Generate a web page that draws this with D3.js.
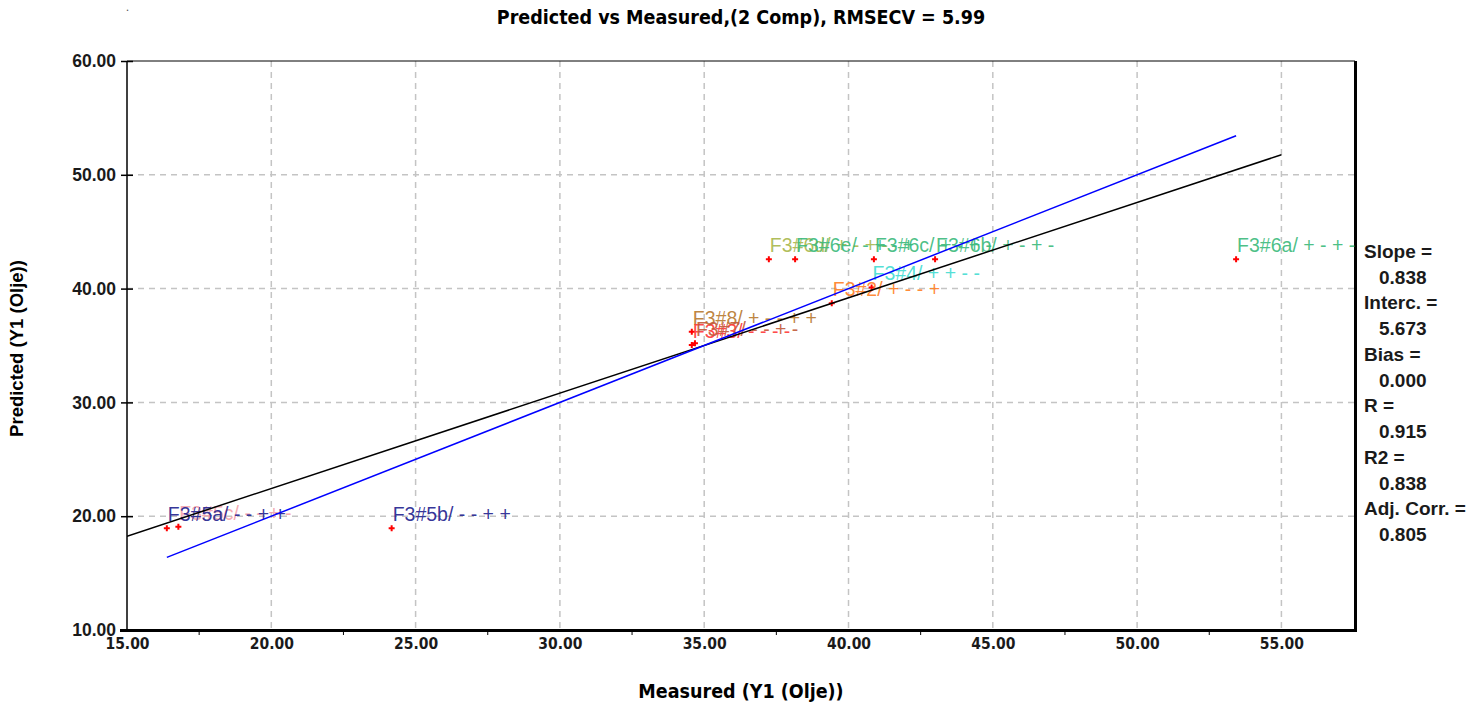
<!DOCTYPE html>
<html>
<head>
<meta charset="utf-8">
<script src="https://cdn.jsdelivr.net/npm/d3@7"></script>
<style>
  body { margin: 0; background: #fff; }
  svg { display: block; }
  .narrow { font-family: "Liberation Sans Narrow", "DejaVu Sans Condensed", "Liberation Sans", Arial, sans-serif; font-weight: bold; }
  .bold { font-family: "Liberation Sans", Arial, sans-serif; font-weight: bold; }
  .lbl { font-family: "Liberation Sans", Arial, sans-serif; font-size: 19.5px; }
</style>
</head>
<body>
<script>
// data
var sampleNames = ["F3#5c/", "F3#5a/", "F3#5b/", "F3#8/", "F3#3/", "F3#7/", "F3#2/", "F3#4/",
                   "F3#6d/", "F3#6e/", "F3#6c/", "F3#6b/", "F3#6a/"];
var measured  = [16.78, 16.38, 24.17, 34.57, 34.57, 34.68, 39.42, 40.80, 37.24, 38.15, 40.88, 43.00, 53.43];
var predicted = [19.08, 18.94, 18.94, 36.20, 35.04, 35.20, 38.71, 40.10, 42.57, 42.57, 42.57, 42.57, 42.57];
var replicateMarks = ["- - + -", "- - + +", "- - + +", "+ - - + +", "- - - -", "- - + -", "+ - - +", "+ + - -",
                      "+ - + -", "- + - +", "+ - + -", "+ - + -", "+ - + -"];

var xTicks = [15, 20, 25, 30, 35, 40, 45, 50, 55];
var yTicks = [10, 20, 30, 40, 50, 60];

var statNames  = ["Slope =", "Interc. =", "Bias =", "R =", "R2 =", "Adj. Corr. ="];
var statValues = [0.838, 5.673, 0.000, 0.915, 0.838, 0.805];
var slope = statValues[0], intercept = statValues[1];

var title = "Predicted vs Measured,(2 Comp), RMSECV = 5.99";

var width = 1481, height = 708;
var pl = 127, pr = 1355, pt = 61, pb = 630;   // plot box

var svg = d3.select("body").append("svg")
    .attr("width", width)
    .attr("height", height);

var x = d3.scaleLinear().domain([15, 57.55]).range([pl, pr]);
var y = d3.scaleLinear().domain([10, 60]).range([pb, pt]);

var color = d3.scaleOrdinal()
    .domain(sampleNames)
    .range(["#f4a4ac", "#23238f", "#23238f", "#b87a30", "#ff3a3a", "#c25a3a", "#ff8026", "#44dcd2",
            "#a9b84c", "#3cba7c", "#3cba7c", "#3cba7c", "#3cba7c"]);

svg.append("defs").append("clipPath").attr("id", "plotclip")
  .append("rect")
    .attr("x", pl).attr("y", pt)
    .attr("width", pr - pl).attr("height", pb - pt);

// stray dot top-left
svg.append("text").attr("x", 126).attr("y", 11).attr("font-size", 12).attr("fill", "#555").text(".");

// title
svg.append("text")
    .attr("class", "narrow")
    .attr("x", (pl + pr) / 2).attr("y", 24)
    .attr("text-anchor", "middle")
    .attr("font-size", 19.5)
    .text(title);

// grid
var grid = svg.append("g").attr("stroke", "#c4c4c4").attr("stroke-width", 1.5).attr("stroke-dasharray", "6,5");
grid.selectAll(".vg").data(xTicks.slice(1))
  .enter().append("line")
    .attr("x1", function(d){ return x(d); }).attr("x2", function(d){ return x(d); })
    .attr("y1", pt).attr("y2", pb);
grid.selectAll(".hg").data(yTicks.slice(1, -1))
  .enter().append("line")
    .attr("x1", pl).attr("x2", pr)
    .attr("y1", function(d){ return y(d); }).attr("y2", function(d){ return y(d); });

// axes
var yAxis = d3.axisLeft(y).tickValues(yTicks).tickSize(6)
    .tickFormat(function(d){ return d.toFixed(2); });
var gy = svg.append("g").attr("transform", "translate(" + pl + ",0)").call(yAxis);
gy.select(".domain").remove();
gy.selectAll(".tick line").attr("x2", -6).attr("x1", 6).attr("stroke", "#000").attr("stroke-width", 1.5);
gy.selectAll(".tick text").attr("class", "bold").attr("font-size", 17.5).attr("fill", "#1a1a1a").attr("x", -11);

var xAxis = d3.axisBottom(x).tickValues(xTicks).tickSize(0).tickPadding(8)
    .tickFormat(function(d){ return d.toFixed(2); });
var gx = svg.append("g").attr("transform", "translate(0," + pb + ")").call(xAxis);
gx.select(".domain").remove();
gx.selectAll(".tick text").attr("class", "narrow").attr("font-size", 15.5).attr("fill", "#1a1a1a");

// minor ticks on x
var minor = d3.range(17.5, 57.5, 5);
svg.append("g").selectAll("line").data(minor)
  .enter().append("line")
    .attr("x1", function(d){ return x(d); }).attr("x2", function(d){ return x(d); })
    .attr("y1", pb).attr("y2", pb + 5)
    .attr("stroke", "#000").attr("stroke-width", 1);

// frame
svg.append("line").attr("x1", pl).attr("x2", pr).attr("y1", pt).attr("y2", pt).attr("stroke", "#000").attr("stroke-width", 1);
svg.append("line").attr("x1", pl).attr("x2", pl).attr("y1", pt).attr("y2", pb).attr("stroke", "#000").attr("stroke-width", 1.5);
svg.append("line").attr("x1", pl - 7).attr("x2", pr + 2).attr("y1", pb + 0.5).attr("y2", pb + 0.5).attr("stroke", "#000").attr("stroke-width", 3);
svg.append("line").attr("x1", pr + 0.5).attr("x2", pr + 0.5).attr("y1", pt).attr("y2", pb + 2).attr("stroke", "#000").attr("stroke-width", 3);

// axis titles
svg.append("text")
    .attr("class", "narrow")
    .attr("x", (pl + pr) / 2).attr("y", 698)
    .attr("text-anchor", "middle")
    .attr("font-size", 19.5)
    .text("Measured (Y1 (Olje))");
svg.append("text")
    .attr("class", "bold")
    .attr("transform", "translate(23," + ((pt + pb) / 2 + 3) + ") rotate(-90)")
    .attr("text-anchor", "middle")
    .attr("font-size", 18.5)
    .text("Predicted (Y1 (Olje))");

var data = sampleNames.map(function(n, i){
  return {name: n, mx: measured[i], py: predicted[i], marks: replicateMarks[i]};
});

var plot = svg.append("g").attr("clip-path", "url(#plotclip)");

// red cross markers
plot.selectAll(".pt").data(data)
  .enter().append("path")
    .attr("class", "pt")
    .attr("d", function(d){
      var cx = x(d.mx), cy = y(d.py);
      return "M" + (cx - 3) + "," + cy + "H" + (cx + 3) + "M" + cx + "," + (cy - 3) + "V" + (cy + 3);
    })
    .attr("stroke", "#ff0000").attr("stroke-width", 2);

// sample labels
plot.selectAll(".lbl").data(data)
  .enter().append("text")
    .attr("class", "lbl")
    .attr("x", function(d){ return x(d.mx) + 1; })
    .attr("y", function(d){ return y(d.py) - 7; })
    .attr("fill", function(d){ return color(d.name); })
    .attr("fill-opacity", 0.92)
    .attr("xml:space", "preserve")
    .text(function(d){ return d.name + " " + d.marks; });

// fitted line
var fitX = [15, 55];
plot.append("line")
    .attr("x1", x(fitX[0])).attr("y1", y(slope * fitX[0] + intercept))
    .attr("x2", x(fitX[1])).attr("y2", y(slope * fitX[1] + intercept))
    .attr("stroke", "#000").attr("stroke-width", 1.5);

// target line y = x
var ext = d3.extent(measured);
plot.append("line")
    .attr("x1", x(ext[0])).attr("y1", y(ext[0]))
    .attr("x2", x(ext[1])).attr("y2", y(ext[1]))
    .attr("stroke", "#0000ff").attr("stroke-width", 1.5);

// stats block
var stats = svg.append("g").attr("class", "bold").attr("font-size", 19).attr("fill", "#1a1a1a");
statNames.forEach(function(s, i){
  stats.append("text").attr("x", 1364).attr("y", 258 + i * 51.4).text(s);
  stats.append("text").attr("x", 1379).attr("y", 284 + i * 51.4).text(statValues[i].toFixed(3));
});
</script>
</body>
</html>
